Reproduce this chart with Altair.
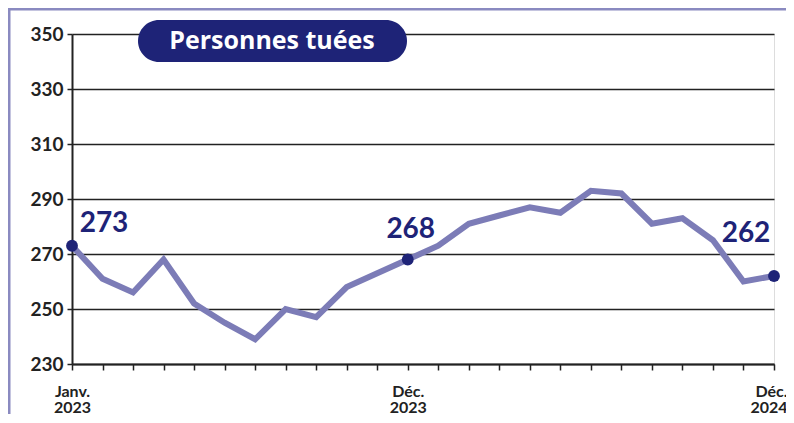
import altair as alt
import pandas as pd

# Data: monthly values, Jan 2023 .. Dec 2024
month_idx = list(range(24))
values = [273, 261, 256, 268, 252, 245, 239, 250, 247, 258, 263, 268,
          273, 281, 284, 287, 285, 293, 292, 281, 283, 275, 260, 262]
tick_labels = {0: ["Janv.", "2023"], 11: ["Déc.", "2023"], 23: ["Déc.", "2024"]}
highlight_idx = [0, 11, 23]
y_ticks = [230, 250, 270, 290, 310, 330, 350]
title_text = "Personnes tuées"

W, H = 702, 330
NAVY = "#1e2377"
LINE = "#7c7cb7"
FRAME = "#8a8ac0"
FONT = "Lato"

df = pd.DataFrame({"i": month_idx, "v": values})
hl = df[df["i"].isin(highlight_idx)]

label_expr = " : ".join(
    f"datum.value == {k} ? ['{a}', '{b}']" for k, (a, b) in tick_labels.items()
) + " : ''"

x = alt.X("i:Q", scale=alt.Scale(domain=[0, 23], nice=False, zero=False),
          axis=alt.Axis(values=month_idx, tickCount=40, title=None, grid=False,
                        labelExpr=label_expr,
                        labelFont=FONT, labelFontSize=16, labelFontWeight="bold",
                        labelColor="#222", labelPadding=13, labelLineHeight=16,
                        labelAlign={"condition": {"test": "datum.value == 23", "value": "right"},
                                    "value": "center"},
                        labelOffset={"condition": {"test": "datum.value == 23", "value": 13},
                                     "value": 0},
                        labelOverlap=False, labelFlush=False, labelBound=False,
                        tickSize=6, tickColor="#222", tickWidth=1.5,
                        domainColor="#222", domainWidth=2))
y = alt.Y("v:Q", scale=alt.Scale(domain=[230, 350], nice=False, zero=False),
          axis=alt.Axis(values=y_ticks, title=None, grid=True, gridColor="#222",
                        gridWidth=1.5, gridOpacity=1,
                        labelFont=FONT, labelFontSize=19, labelFontWeight="bold",
                        labelColor="#222", labelPadding=4,
                        tickSize=5, tickColor="#222", tickWidth=1.5,
                        domainColor="#222", domainWidth=2))

base = alt.Chart(df)
line = base.mark_line(color=LINE, strokeWidth=6, strokeJoin="miter").encode(x=x, y=y)
dots = alt.Chart(hl).mark_circle(color=NAVY, opacity=1, size=140).encode(x="i:Q", y="v:Q")

offsets = {0: (32, -14, "center"), 11: (3, -22, "center"), 23: (-28, -34, "center")}
labels = []
for k, (dx, dy, al) in offsets.items():
    labels.append(
        alt.Chart(df[df["i"] == k]).mark_text(
            font=FONT, fontSize=28, fontWeight="bold", color=NAVY,
            dx=dx, dy=dy, align=al, baseline="alphabetic"
        ).encode(x="i:Q", y="v:Q", text="v:Q")
    )

one = pd.DataFrame({"a": [0]})
pill = alt.Chart(one).mark_rect(color=NAVY, cornerRadius=21).encode(
    x=alt.value(66), x2=alt.value(335), y=alt.value(-14), y2=alt.value(28))
pill_text = alt.Chart(one).mark_text(
    text=title_text, font="Open Sans", fontSize=25, fontWeight="bold", color="white",
    align="center", baseline="middle").encode(x=alt.value(200), y=alt.value(7))

frame_left = alt.Chart(one).mark_rule(color=FRAME, strokeWidth=3).encode(
    x=alt.value(-63), y=alt.value(-26), y2=alt.value(H + 50))
frame_top = alt.Chart(one).mark_rule(color=FRAME, strokeWidth=3).encode(
    x=alt.value(-64), x2=alt.value(W + 12), y=alt.value(-25))

chart = alt.layer(line, dots, *labels, pill, pill_text, frame_left, frame_top).properties(
    width=W, height=H,
    autosize=alt.AutoSizeParams(type="none"),
    padding={"left": 64, "top": 26, "right": 12, "bottom": 50},
).configure_view(stroke="#222", strokeWidth=1.5).configure(background="white")

chart.save("out.html", embed_options={"renderer": "svg", "actions": False})
